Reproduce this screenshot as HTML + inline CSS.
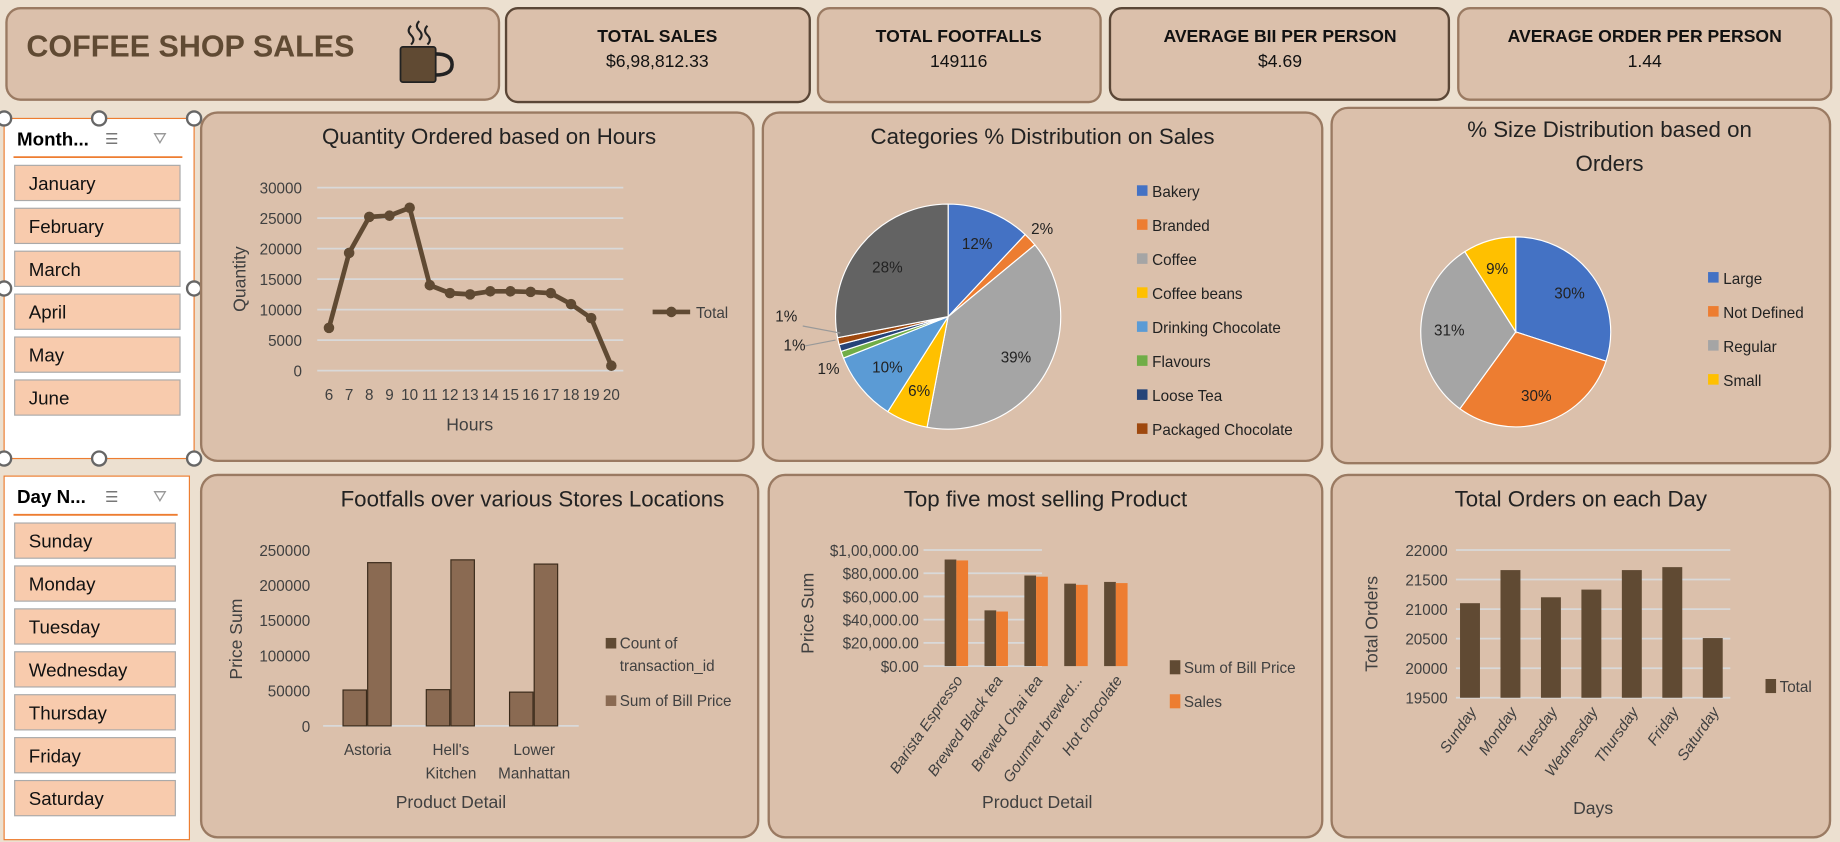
<!DOCTYPE html>
<html><head><meta charset="utf-8"><style>
html,body{margin:0;padding:0;background:#ece0d0;}
svg{display:block;font-family:"Liberation Sans",sans-serif;}
</style></head><body>
<svg id="s" width="1840" height="842" viewBox="0 0 1568 718" xmlns="http://www.w3.org/2000/svg">
<rect x="0" y="0" width="1568" height="718" fill="#ece0d0"/>
<g>
<rect x="5" y="7" width="420" height="78" rx="12" fill="#dbc0ab" stroke="#9a7a62" stroke-width="2"/>
<text x="22" y="48" font-size="26" font-weight="bold" fill="#604a33">COFFEE SHOP SALES</text>
<g><rect x="341" y="40" width="30" height="30" rx="2" fill="#604a33" stroke="#222" stroke-width="1.5"/><path d="M371 46 q14 0 14 9 q0 9 -14 9" fill="none" stroke="#222" stroke-width="3"/><path d="M350 22 q-4 4 0 8 q4 4 0 8 M357 18 q-4 4 0 8 q4 4 0 8 M364 22 q-4 4 0 8 q4 4 0 8" fill="none" stroke="#222" stroke-width="1.8"/></g>
</g>
<g><rect x="431" y="7" width="259" height="80" rx="10" fill="#dbc0ab" stroke="#5a4636" stroke-width="2"/><text x="560" y="36" text-anchor="middle" font-size="15" font-weight="bold" fill="#111">TOTAL SALES</text><text x="560" y="57" text-anchor="middle" font-size="15" fill="#111">$6,98,812.33</text></g>
<g><rect x="697" y="7" width="241" height="80" rx="10" fill="#dbc0ab" stroke="#9a7a62" stroke-width="2"/><text x="817" y="36" text-anchor="middle" font-size="15" font-weight="bold" fill="#111">TOTAL FOOTFALLS</text><text x="817" y="57" text-anchor="middle" font-size="15" fill="#111">149116</text></g>
<g><rect x="946" y="7" width="289" height="78" rx="10" fill="#dbc0ab" stroke="#5a4636" stroke-width="2"/><text x="1091" y="36" text-anchor="middle" font-size="15" font-weight="bold" fill="#111">AVERAGE BII PER PERSON</text><text x="1091" y="57" text-anchor="middle" font-size="15" fill="#111">$4.69</text></g>
<g><rect x="1243" y="7" width="318" height="78" rx="10" fill="#dbc0ab" stroke="#9a7a62" stroke-width="2"/><text x="1402" y="36" text-anchor="middle" font-size="15" font-weight="bold" fill="#111">AVERAGE ORDER PER PERSON</text><text x="1402" y="57" text-anchor="middle" font-size="15" fill="#111">1.44</text></g>
<g id="slicers"></g>
<g id="panels"></g>
</svg>
<script>
const hours=[6,7,8,9,10,11,12,13,14,15,16,17,18,19,20];
const qty=[7000,19300,25200,25400,26700,14000,12700,12500,13000,13000,12900,12700,10900,8600,800];
const qtyTicks=[0,5000,10000,15000,20000,25000,30000];
const catNames=["Bakery","Branded","Coffee","Coffee beans","Drinking Chocolate","Flavours","Loose Tea","Packaged Chocolate","Tea"];
const catPct=[12,2,39,6,10,1,1,1,28];
const sizeNames=["Large","Not Defined","Regular","Small"];
const sizePct=[30,30,31,9];
const stores=["Astoria","Hell's Kitchen","Lower Manhattan"];
const storeCount=[51000,51500,48000];
const storeBill=[232000,236000,230000];
const storeTicks=[0,50000,100000,150000,200000,250000];
const products=["Barista Espresso","Brewed Black tea","Brewed Chai tea","Gourmet brewed...","Hot chocolate"];
const prodBill=[91800,48000,78000,71000,72500];
const prodSales=[91000,47000,77000,70000,71500];
const prodTicks=["$0.00","$20,000.00","$40,000.00","$60,000.00","$80,000.00","$1,00,000.00"];
const days=["Sunday","Monday","Tuesday","Wednesday","Thursday","Friday","Saturday"];
const dayOrders=[21100,21660,21200,21330,21660,21710,20510];
const dayTicks=[19500,20000,20500,21000,21500,22000];
const months=["January","February","March","April","May","June"];

const NS="http://www.w3.org/2000/svg";
function el(p,t,a,txt){const e=document.createElementNS(NS,t);for(const k in a)e.setAttribute(k,a[k]);if(txt!==undefined)e.textContent=txt;p.appendChild(e);return e;}
const P=document.getElementById('panels');
const BR="#604a33",GRID="#d9d9d9",TX="#404040";
function panel(x,y,w,h,title,name){const g=el(P,'g',{});
el(g,'rect',{x,y,width:w,height:h,rx:14,fill:'#dbc0ab',stroke:'#9a7a62','stroke-width':2});
if(title){const t=el(g,'text',{x:x+w/2+(title.x||0),y:y+27,'text-anchor':'middle','font-size':19,fill:'#222'},title.t||title);}
return g;}

const S=document.getElementById('slicers');
function slicer(x,y,w,h,head,items,sel,name){const g=el(S,'g',{});
el(g,'rect',{x,y,width:w,height:h,fill:'#fff',stroke:'#ed7d31','stroke-width':1});
el(g,'text',{x:x+11,y:y+23,'font-size':16,'font-weight':'bold',fill:'#000'},head);
el(g,'text',{x:x+86,y:y+22,'font-size':13,fill:'#777'},'☰');
el(g,'text',{x:x+127,y:y+22,'font-size':14,fill:'#999'},'⛛');
el(g,'line',{x1:x+8,y1:y+33,x2:x+w-10,y2:y+33,stroke:'#ed7d31','stroke-width':1.5});
items.forEach((m,i)=>{const b=el(g,'g',{});
const yy=y+40+i*36.6;el(b,'rect',{x:x+9,y:yy,width:w-21,height:30,fill:'#f8cbad',stroke:'#aaa','stroke-width':1});
el(b,'text',{x:x+21,y:yy+21,'font-size':16,fill:'#111'},m);});
if(sel){[[x,y],[x+w/2,y],[x+w,y],[x,y+h/2],[x+w,y+h/2],[x,y+h],[x+w/2,y+h],[x+w,y+h]].forEach(p=>el(g,'circle',{cx:p[0],cy:p[1],r:6,fill:'#fff',stroke:'#666','stroke-width':2}));}
}
slicer(3,101,162,290,'Month...',months,true,'month-slicer');
slicer(3,406,158,310,'Day N...',days,false,'day-slicer');

{const g=panel(171,96,471,297,{t:'Quantity Ordered based on Hours',x:10},'quantity-by-hour-chart');
const y=v=>316-v/30000*156, x=i=>280+i*17.2;
qtyTicks.forEach(t=>{el(g,'line',{x1:270,x2:531,y1:y(t),y2:y(t),stroke:GRID,'stroke-width':1.5});el(g,'text',{x:257,y:y(t)+5,'text-anchor':'end','font-size':13,fill:TX},t);});
hours.forEach((h,i)=>el(g,'text',{x:x(i),y:341,'text-anchor':'middle','font-size':13,fill:TX},h));
el(g,'path',{d:qty.map((v,i)=>(i?'L':'M')+x(i)+' '+y(v)).join(''),fill:'none',stroke:BR,'stroke-width':4});
qty.forEach((v,i)=>{const c=el(g,'circle',{cx:x(i),cy:y(v),r:4.5,fill:BR});});
el(g,'text',{x:400,y:367,'text-anchor':'middle','font-size':15,fill:TX},'Hours');
el(g,'text',{x:0,y:0,transform:'translate(209,238) rotate(-90)','text-anchor':'middle','font-size':15,fill:TX},'Quantity');
el(g,'line',{x1:556,x2:588,y1:266,y2:266,stroke:BR,'stroke-width':4});el(g,'circle',{cx:572,cy:266,r:4.5,fill:BR});
el(g,'text',{x:593,y:271,'font-size':13,fill:TX},'Total');}

function pie(g,cx,cy,r,vals,cols,names,lblR){let a=-Math.PI/2;const tot=vals.reduce((s,v)=>s+v,0);
vals.forEach((v,i)=>{const da=v/tot*2*Math.PI,a2=a+da;const p=el(g,'path',{d:`M${cx} ${cy}L${cx+r*Math.cos(a)} ${cy+r*Math.sin(a)}A${r} ${r} 0 ${da>Math.PI?1:0} 1 ${cx+r*Math.cos(a2)} ${cy+r*Math.sin(a2)}Z`,fill:cols[i],stroke:'#fff','stroke-width':1});

const m=(a+a2)/2;if(v>=2){const rr=v<3?r+14:r*lblR;el(g,'text',{x:cx+rr*Math.cos(m),y:cy+rr*Math.sin(m)+5,'text-anchor':'middle','font-size':13,fill:'#222'},v+'%');}
a=a2;});}
{const g=panel(650,96,477,297,'Categories % Distribution on Sales','category-pie-chart');
const cols=["#4472c4","#ed7d31","#a5a5a5","#ffc000","#5b9bd5","#70ad47","#264478","#9e480e","#636363"];
pie(g,808,270,96,catPct,cols,catNames,0.7);
el(g,'text',{x:706,y:319,'text-anchor':'middle','font-size':13,fill:'#222'},'1%');
el(g,'text',{x:677,y:299,'text-anchor':'middle','font-size':13,fill:'#222'},'1%');
el(g,'text',{x:670,y:274,'text-anchor':'middle','font-size':13,fill:'#222'},'1%');
el(g,'path',{d:'M686 295 L712 290 M684 278 L716 284',stroke:'#999',fill:'none'});
catNames.slice(0,8).forEach((n,i)=>{const yy=167+i*29;el(g,'rect',{x:969,y:yy-9,width:9,height:9,fill:cols[i]});el(g,'text',{x:982,y:yy+1,'font-size':13,fill:'#222'},n);});}
{const g=panel(1135,92,425,303,null,'size-pie-chart');
el(g,'text',{x:1372,y:117,'text-anchor':'middle','font-size':19,fill:'#222'},'% Size Distribution based on');
el(g,'text',{x:1372,y:146,'text-anchor':'middle','font-size':19,fill:'#222'},'Orders');
const cols=["#4472c4","#ed7d31","#a5a5a5","#ffc000"];
pie(g,1292,283,81,sizePct,cols,sizeNames,0.7);
sizeNames.forEach((n,i)=>{const yy=241+i*29;el(g,'rect',{x:1456,y:yy-9,width:9,height:9,fill:cols[i]});el(g,'text',{x:1469,y:yy+1,'font-size':13,fill:'#222'},n);});}
{const g=panel(171,405,475,309,{t:'Footfalls over various Stores Locations',x:45},'footfalls-by-store-chart');
const y=v=>619-v/250000*150;
storeTicks.forEach(t=>{el(g,'text',{x:264,y:y(t)+5,'text-anchor':'end','font-size':13,fill:TX},t);});
el(g,'line',{x1:275,x2:493,y1:619,y2:619,stroke:GRID,'stroke-width':1.5});
stores.forEach((s,i)=>{const cx=313+i*71;
const b1=el(g,'rect',{x:cx-21,y:y(storeCount[i]),width:20,height:619-y(storeCount[i]),fill:'#8a6a52',stroke:'#3a2a1a'});
const b2=el(g,'rect',{x:cx,y:y(storeBill[i]),width:20,height:619-y(storeBill[i]),fill:'#8a6a52',stroke:'#3a2a1a'});
const w=s.split(' ');if(w.length>1){el(g,'text',{x:cx,y:644,'text-anchor':'middle','font-size':13,fill:TX},w[0]);el(g,'text',{x:cx,y:664,'text-anchor':'middle','font-size':13,fill:TX},w[1]);}else el(g,'text',{x:cx,y:644,'text-anchor':'middle','font-size':13,fill:TX},s);});
el(g,'text',{x:384,y:689,'text-anchor':'middle','font-size':15,fill:TX},'Product Detail');
el(g,'text',{x:0,y:0,transform:'translate(206,545) rotate(-90)','text-anchor':'middle','font-size':15,fill:TX},'Price Sum');
el(g,'rect',{x:516,y:544,width:9,height:9,fill:BR});el(g,'text',{x:528,y:553,'font-size':13,fill:TX},'Count of');el(g,'text',{x:528,y:572,'font-size':13,fill:TX},'transaction_id');
el(g,'rect',{x:516,y:593,width:9,height:9,fill:'#8a6a52'});el(g,'text',{x:528,y:602,'font-size':13,fill:TX},'Sum of Bill Price');}
{const g=panel(655,405,472,309,'Top five most selling Product','top-products-chart');
const y=v=>568-v/100000*99;
prodTicks.forEach((t,i)=>{const yy=568-i*19.8;el(g,'line',{x1:787,x2:888,y1:yy,y2:yy,stroke:GRID,'stroke-width':1.5});el(g,'text',{x:783,y:yy+5,'text-anchor':'end','font-size':13,fill:TX},t);});
products.forEach((p,i)=>{const cx=815+i*34;
const b1=el(g,'rect',{x:cx-10,y:y(prodBill[i]),width:10,height:568-y(prodBill[i]),fill:BR});
const b2=el(g,'rect',{x:cx,y:y(prodSales[i]),width:10,height:568-y(prodSales[i]),fill:'#ed7d31'});
el(g,'text',{x:0,y:0,transform:`translate(${cx+6},${580}) rotate(-55)`,'text-anchor':'end','font-size':13,'font-style':'italic',fill:TX},p);});
el(g,'text',{x:884,y:689,'text-anchor':'middle','font-size':15,fill:TX},'Product Detail');
el(g,'text',{x:0,y:0,transform:'translate(693,523) rotate(-90)','text-anchor':'middle','font-size':15,fill:TX},'Price Sum');
el(g,'rect',{x:997,y:563,width:9,height:12,fill:BR});el(g,'text',{x:1009,y:574,'font-size':13,fill:TX},'Sum of Bill Price');
el(g,'rect',{x:997,y:592,width:9,height:12,fill:'#ed7d31'});el(g,'text',{x:1009,y:603,'font-size':13,fill:TX},'Sales');}
{const g=panel(1135,405,425,309,'Total Orders on each Day','orders-by-day-chart');
const y=v=>595-(v-19500)/2500*126;
dayTicks.forEach(t=>{el(g,'line',{x1:1241,x2:1475,y1:y(t),y2:y(t),stroke:GRID,'stroke-width':1.5});el(g,'text',{x:1234,y:y(t)+5,'text-anchor':'end','font-size':13,fill:TX},t);});
days.forEach((d,i)=>{const cx=1253+i*34.5;
const b=el(g,'rect',{x:cx-8.5,y:y(dayOrders[i]),width:17,height:595-y(dayOrders[i]),fill:BR});
el(g,'text',{x:0,y:0,transform:`translate(${cx+6},${607}) rotate(-55)`,'text-anchor':'end','font-size':13,'font-style':'italic',fill:TX},d);});
el(g,'text',{x:1358,y:694,'text-anchor':'middle','font-size':15,fill:TX},'Days');
el(g,'text',{x:0,y:0,transform:'translate(1174,532) rotate(-90)','text-anchor':'middle','font-size':15,fill:TX},'Total Orders');
el(g,'rect',{x:1505,y:579,width:9,height:12,fill:BR});el(g,'text',{x:1517,y:590,'font-size':13,fill:TX},'Total');}
</script>
</body></html>
